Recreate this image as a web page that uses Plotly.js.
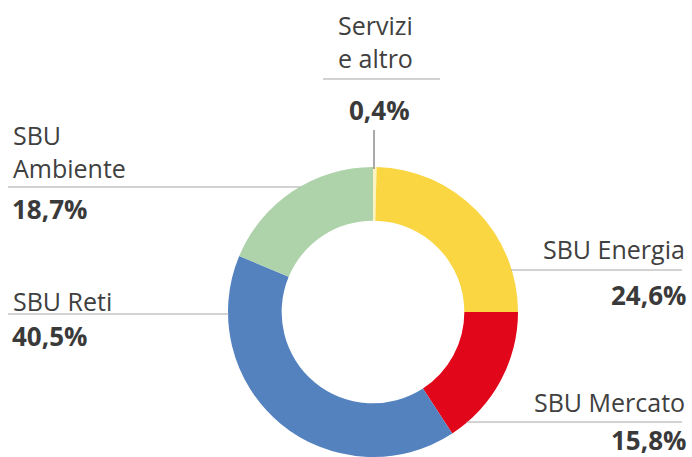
<!DOCTYPE html>
<html>
<head>
<meta charset="utf-8">
<script src="https://cdn.plot.ly/plotly-3.0.1.min.js"></script>
<style>
  html, body { margin: 0; padding: 0; background: #ffffff; }
  #chart { width: 692px; height: 457px; }
</style>
</head>
<body>
<div id="chart"></div>
<script>
// ---- data ----
const categories = ['Servizi e altro', 'SBU Energia', 'SBU Mercato', 'SBU Reti', 'SBU Ambiente'];
const values = [0.4, 24.6, 15.8, 40.5, 18.7];
const nameLabels = ['Servizi<br>e altro', 'SBU Energia', 'SBU Mercato', 'SBU Reti', 'SBU<br>Ambiente'];
const colors = ['#FDF3C0', '#F9D642', '#E2061B', '#5482BF', '#AED3AB'];

// ---- layout geometry (pixels) ----
const W = 692, H = 457;
const CX = 373, R = 145;           // pie centre x and outer radius
const CY = H - R;                  // pie centre y (domain starts at bottom)
const px = x => x / W;
const py = y => 1 - y / H;

// label placement: name centre, value centre, leader line y, side
const place = [
  { side: 'top',   x: 376, nameY: 42,    valY: 110,  lineY: 79 },
  { side: 'right', x: 687, nameY: 249,   valY: 294.5, lineY: 270 },
  { side: 'right', x: 687, nameY: 402,   valY: 440,  lineY: 422 },
  { side: 'left',  x: 11,  nameY: 301,   valY: 335.5, lineY: 314 },
  { side: 'left',  x: 11,  nameY: 151,   valY: 209,  lineY: 187 }
];

const fmt = v => v.toFixed(1).replace('.', ',') + '%';
const nameFont = { family: 'Open Sans, sans-serif', size: 25, color: '#404040' };
const valFont  = { family: 'Open Sans, sans-serif', size: 26, color: '#3a3a3a', weight: 'bold' };

const annotations = [];
const shapes = [];
const lineCol = '#a6a6a6';

place.forEach((p, i) => {
  const xanchor = p.side === 'top' ? 'center' : (p.side === 'left' ? 'left' : 'right');
  annotations.push({
    xref: 'paper', yref: 'paper', x: px(p.x), y: py(p.nameY),
    xanchor: xanchor, yanchor: 'middle', align: xanchor === 'center' ? 'center' : xanchor,
    text: nameLabels[i], showarrow: false, font: nameFont
  });
  annotations.push({
    xref: 'paper', yref: 'paper', x: px(p.x + (p.side === 'top' ? 3 : 0)), y: py(p.valY),
    xanchor: xanchor, yanchor: 'middle', borderpad: 0,
    text: '<b>' + fmt(values[i]) + '</b>', showarrow: false, font: valFont
  });
  if (p.side === 'top') {
    shapes.push({ type: 'line', xref: 'paper', yref: 'paper',
      x0: px(323), x1: px(440), y0: py(p.lineY), y1: py(p.lineY),
      line: { color: lineCol, width: 1 } });
    shapes.push({ type: 'line', xref: 'paper', yref: 'paper',
      x0: px(374), x1: px(374), y0: py(130), y1: py(CY - R + 2),
      line: { color: '#555555', width: 1 } });
  } else {
    const dy = p.lineY - CY;
    const dx = Math.sqrt(Math.max(0, R * R - dy * dy));
    if (p.side === 'left') {
      shapes.push({ type: 'line', xref: 'paper', yref: 'paper',
        x0: px(8), x1: px(CX - dx + 1), y0: py(p.lineY), y1: py(p.lineY),
        line: { color: lineCol, width: 1 } });
    } else {
      shapes.push({ type: 'line', xref: 'paper', yref: 'paper',
        x0: px(CX + dx - 1), x1: px(682), y0: py(p.lineY), y1: py(p.lineY),
        line: { color: lineCol, width: 1 } });
    }
  }
});

const trace = {
  type: 'pie',
  labels: categories,
  values: values,
  hole: 0.63,
  sort: false,
  direction: 'clockwise',
  rotation: 0,
  textinfo: 'none',
  hoverinfo: 'label+percent',
  marker: { colors: colors, line: { width: 0 } },
  domain: { x: [px(CX - R), px(CX + R)], y: [0, (2 * R) / H] },
  showlegend: false
};

const layout = {
  width: W, height: H,
  margin: { l: 0, r: 0, t: 0, b: 0 },
  paper_bgcolor: '#ffffff',
  showlegend: false,
  annotations: annotations,
  shapes: shapes
};

Plotly.newPlot('chart', [trace], layout, { displayModeBar: false, staticPlot: true });
</script>
</body>
</html>
